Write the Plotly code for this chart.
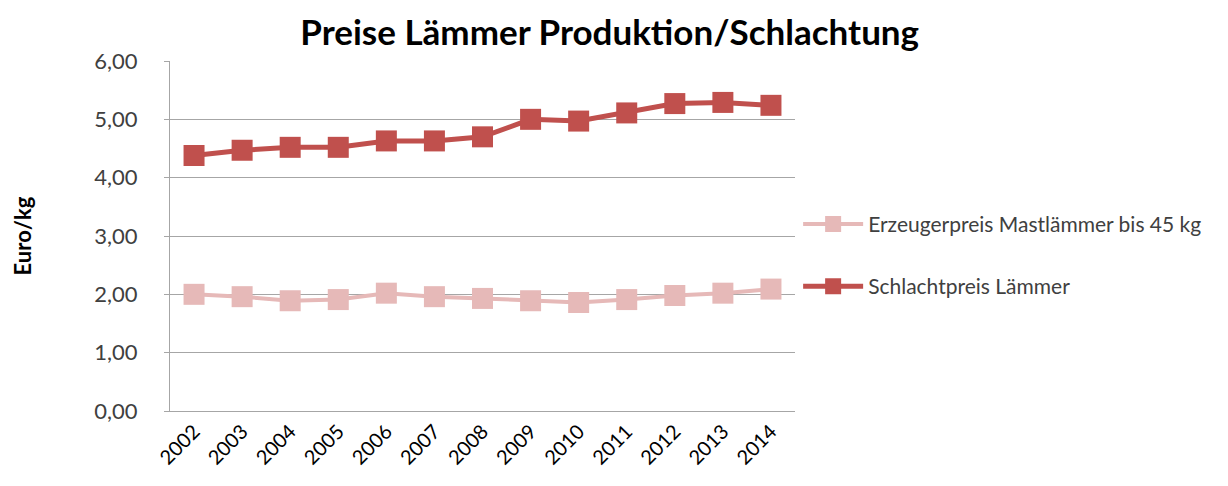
import plotly.graph_objects as go

# Jahre und Preise (Euro/kg)
years = ["2002", "2003", "2004", "2005", "2006", "2007", "2008",
         "2009", "2010", "2011", "2012", "2013", "2014"]
erzeugerpreis = [2.00, 1.96, 1.89, 1.91, 2.02, 1.96, 1.93,
                 1.89, 1.86, 1.91, 1.98, 2.02, 2.09]
schlachtpreis = [4.38, 4.47, 4.52, 4.52, 4.63, 4.63, 4.70,
                 5.00, 4.97, 5.11, 5.27, 5.29, 5.24]

font_family = "Lato, 'Open Sans', sans-serif"

fig = go.Figure()

fig.add_trace(go.Scatter(
    x=years, y=erzeugerpreis,
    name="Erzeugerpreis Mastlämmer bis 45 kg",
    legendgroup="a",
    mode="lines+markers",
    line=dict(color="#e6b9b8", width=4),
    marker=dict(symbol="square", size=21, color="#e6b9b8"),
))

fig.add_trace(go.Scatter(
    x=years, y=schlachtpreis,
    name="Schlachtpreis Lämmer",
    legendgroup="b",
    mode="lines+markers",
    line=dict(color="#c0504d", width=5),
    marker=dict(symbol="square", size=21, color="#c0504d"),
))

# page body has an 8px margin, so margins are shifted by 8px
fig.update_layout(
    width=1228,
    height=486,
    paper_bgcolor="white",
    plot_bgcolor="white",
    separators=",.",
    font=dict(family=font_family, color="#404040"),
    title=dict(
        text="<b>Preise Lämmer Produktion/Schlachtung</b>",
        x=0.49,
        xanchor="center",
        y=0.975,
        yanchor="top",
        font=dict(size=35, color="black"),
    ),
    margin=dict(l=162, r=441, t=53, b=83),
    legend=dict(
        x=1.005, y=0.445,
        xanchor="left", yanchor="middle",
        font=dict(size=21, color="#404040"),
        tracegroupgap=32,
        itemwidth=60,
    ),
    showlegend=True,
)

fig.update_xaxes(
    type="category",
    range=[-0.5, 12.5],
    showgrid=False,
    showline=True,
    linecolor="#a6a6a6",
    linewidth=1,
    tickangle=-45,
    tickfont=dict(size=20, color="black"),
    ticks="",
)

fig.update_yaxes(
    range=[0, 6],
    dtick=1,
    tickformat=".2f",
    showgrid=True,
    gridcolor="#a6a6a6",
    gridwidth=1,
    showline=True,
    linecolor="#a6a6a6",
    linewidth=1,
    ticks="outside",
    ticklen=5,
    tickcolor="#a6a6a6",
    ticklabelstandoff=22,
    tickfont=dict(size=22, color="#404040"),
    zeroline=False,
    title=dict(text="<b>Euro/kg</b>", font=dict(size=22, color="black"), standoff=56),
)

fig.write_html("out.html")
